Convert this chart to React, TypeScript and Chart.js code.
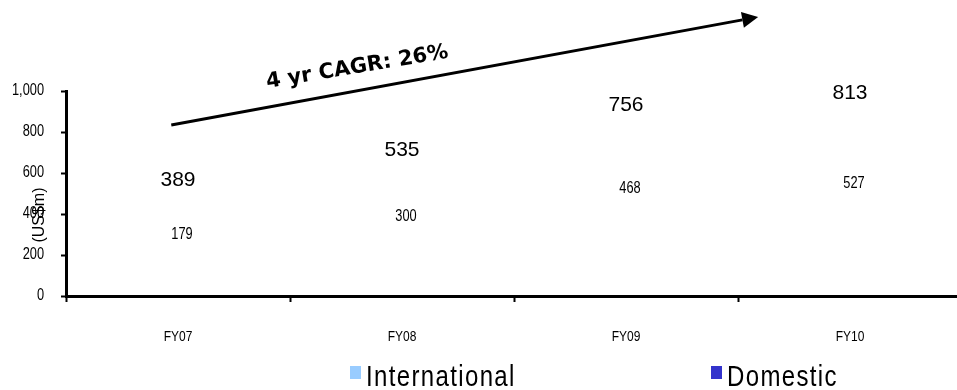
import React, { useEffect, useRef } from "react";
import { Chart, registerables } from "chart.js";

Chart.register(...registerables);

// Revenue split by year (US$m)
const categories = ["FY07", "FY08", "FY09", "FY10"];
const international = [210, 235, 288, 286];
const domestic = [179, 300, 468, 527];
const yTicks = [0, 200, 400, 600, 800, 1000];
const seriesNames = ["International", "Domestic"];
const seriesColors = ["#99CCFF", "#3333CC"];
const cagrText = "4 yr CAGR: 26%";
const unitLabel = "(US$m)";

const REGULAR = "'Liberation Sans', Arial, sans-serif";
const NARROW_SCALE = 0.8;

// Draws text squeezed horizontally, like a narrow typeface
function narrowText(
  ctx: CanvasRenderingContext2D,
  text: string,
  x: number,
  y: number,
  size: number,
  align: CanvasTextAlign,
  baseline: CanvasTextBaseline = "middle",
  spacing = 0
) {
  ctx.save();
  ctx.translate(x, y);
  ctx.scale(NARROW_SCALE, 1);
  ctx.font = `${size}px ${REGULAR}`;
  ctx.textAlign = align;
  ctx.textBaseline = baseline;
  (ctx as any).letterSpacing = `${spacing}px`;
  ctx.fillText(text, 0, 0);
  ctx.restore();
}

// Axis labels, value labels, growth arrow, unit label and legend
const overlayPlugin = {
  id: "overlay",
  afterDatasetsDraw(chart: any) {
    const ctx: CanvasRenderingContext2D = chart.ctx;
    const xs = chart.scales.x;
    const ys = chart.scales.y;
    const area = chart.chartArea;
    const domMeta = chart.getDatasetMeta(1);

    ctx.save();
    ctx.fillStyle = "#000";

    // y tick labels
    yTicks.forEach((v) => {
      narrowText(ctx, v.toLocaleString("en-US"), area.left - 22, ys.getPixelForValue(v), 16, "right");
    });

    // category labels
    categories.forEach((c, i) => {
      narrowText(ctx, c, xs.getPixelForValue(i), area.bottom + 41, 15, "center");
    });

    categories.forEach((_, i) => {
      const p = domMeta.data[i].getProps(["x", "y", "base"], true);
      // domestic value in the middle of its segment
      narrowText(ctx, String(domestic[i]), p.x + 4, (p.y + p.base) / 2, 16, "center");
      // total above the stack
      const total = international[i] + domestic[i];
      ctx.font = `21px ${REGULAR}`;
      ctx.textAlign = "center";
      ctx.textBaseline = "middle";
      ctx.fillText(String(total), p.x, ys.getPixelForValue(total) - 36);
    });

    // growth arrow
    const x0 = xs.getPixelForValue(-0.03);
    const y0 = ys.getPixelForValue(834);
    const x1 = xs.getPixelForValue(2.59);
    const y1 = ys.getPixelForValue(1361);
    const ang = Math.atan2(y1 - y0, x1 - x0);
    const headLen = 16;
    const headHalf = 8;
    const bx = x1 - headLen * Math.cos(ang);
    const by = y1 - headLen * Math.sin(ang);
    ctx.strokeStyle = "#000";
    ctx.lineWidth = 3;
    ctx.beginPath();
    ctx.moveTo(x0, y0);
    ctx.lineTo(bx, by);
    ctx.stroke();
    ctx.beginPath();
    ctx.moveTo(x1, y1);
    ctx.lineTo(bx + headHalf * Math.sin(ang), by - headHalf * Math.cos(ang));
    ctx.lineTo(bx - headHalf * Math.sin(ang), by + headHalf * Math.cos(ang));
    ctx.closePath();
    ctx.fill();

    // growth caption
    ctx.save();
    ctx.translate(xs.getPixelForValue(0.8), ys.getPixelForValue(1115));
    ctx.rotate((-9.5 * Math.PI) / 180);
    ctx.font = `bold 21px 'DejaVu Sans', Tahoma, sans-serif`;
    ctx.textAlign = "center";
    ctx.textBaseline = "middle";
    ctx.fillText(cagrText, 0, 0);
    ctx.restore();

    // unit label
    ctx.save();
    ctx.translate(area.left - 26, ys.getPixelForValue(395));
    ctx.rotate(-Math.PI / 2);
    ctx.font = `16px ${REGULAR}`;
    ctx.textAlign = "center";
    ctx.textBaseline = "middle";
    ctx.fillText(unitLabel, 0, 0);
    ctx.restore();

    // legend
    const legendX = [350, 711];
    seriesNames.forEach((name, i) => {
      ctx.fillStyle = seriesColors[i];
      ctx.fillRect(legendX[i], 366, 11, 13);
      ctx.fillStyle = "#000";
      narrowText(ctx, name, legendX[i] + 16, 386, 30, "left", "alphabetic", 1.7);
    });
    ctx.restore();
  },
};

export default function App() {
  const ref = useRef<HTMLCanvasElement | null>(null);

  useEffect(() => {
    if (!ref.current) return;
    const chart = new Chart(ref.current, {
      type: "bar",
      data: {
        labels: categories,
        datasets: [
          {
            label: seriesNames[0],
            data: international,
            backgroundColor: "rgba(0,0,0,0)",
            borderWidth: 0,
          },
          {
            label: seriesNames[1],
            data: domestic,
            backgroundColor: "rgba(0,0,0,0)",
            borderWidth: 0,
          },
        ],
      },
      options: {
        responsive: false,
        animation: false,
        devicePixelRatio: 1,
        layout: { padding: { left: 0, top: 91, right: 18, bottom: 0 } },
        plugins: {
          legend: { display: false },
          tooltip: { enabled: false },
        },
        scales: {
          x: {
            stacked: true,
            afterFit: (s: any) => {
              s.height = 94;
            },
            grid: {
              offset: true,
              drawOnChartArea: false,
              drawTicks: true,
              tickLength: 6,
              tickWidth: 2,
              tickColor: "#000",
            },
            border: { display: true, color: "#000", width: 3 },
            ticks: { display: false },
          },
          y: {
            stacked: true,
            min: 0,
            max: 1000,
            afterFit: (s: any) => {
              s.width = 66;
            },
            afterBuildTicks: (s: any) => {
              s.ticks = yTicks.map((v) => ({ value: v }));
            },
            grid: {
              drawOnChartArea: false,
              drawTicks: true,
              tickLength: 5,
              tickWidth: 2,
              tickColor: "#000",
            },
            border: { display: true, color: "#000", width: 3 },
            ticks: { display: false },
          },
        },
      },
      plugins: [overlayPlugin],
    });
    return () => chart.destroy();
  }, []);

  return (
    <div
      style={{
        position: "fixed",
        left: 0,
        top: 0,
        width: 957,
        height: 390,
        overflow: "hidden",
        background: "#fff",
      }}
    >
      <canvas
        ref={ref}
        width={980}
        height={390}
        style={{ display: "block", width: 980, height: 390 }}
      />
    </div>
  );
}
